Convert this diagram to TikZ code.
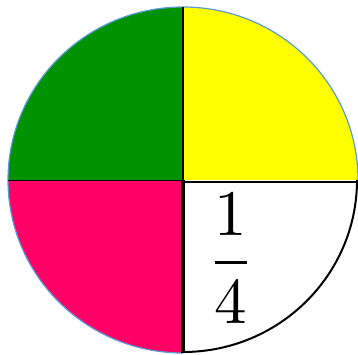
\documentclass[tikz,border=0pt]{standalone}
\usepackage{tikz}

\definecolor{piegreen}{RGB}{0,146,0}
\definecolor{pieyellow}{RGB}{255,255,0}
\definecolor{piepink}{RGB}{255,0,102}
\definecolor{rimblue}{RGB}{91,155,213}

\begin{document}
\begin{tikzpicture}[
  x=1pt,y=1pt,
  rim/.style={draw=rimblue,line width=1.2pt},
  whiterim/.style={draw=black,line width=2pt},
  divider/.style={draw=black,line width=#1},
  label/.style={scale=6.5,inner sep=0pt}
]
  \useasboundingbox (0,0) rectangle (358,354);
  \coordinate (O) at (183,174);

  % the four quarters
  \fill[piegreen] (O) -- ++(-175,0) arc[start angle=180,end angle=90,x radius=175,y radius=173] -- cycle;
  \fill[pieyellow] (O) -- ++(0,173) arc[start angle=90,end angle=0,x radius=175,y radius=173] -- cycle;
  \fill[piepink] (O) -- ++(0,-173) arc[start angle=270,end angle=180,x radius=175,y radius=173] -- cycle;
  \fill[white] (O) -- ++(175,0) arc[start angle=0,end angle=-90,x radius=175,y radius=173] -- cycle;

  % rims
  \draw[rim] (O) ++(0,-173) arc[start angle=270,end angle=90,x radius=175,y radius=173];
  \draw[rim] (O) ++(0,173) arc[start angle=90,end angle=0,x radius=175,y radius=173];
  \draw[whiterim] (O) ++(174,0) arc[start angle=0,end angle=-90,x radius=174,y radius=172];

  % dividing lines
  \coordinate (top) at (183,347);
  \coordinate (bottom) at (183,1);
  \coordinate (left) at (8,174);
  \coordinate (right) at (358,172);
  \draw[divider=1.6pt] (O) -- (top);
  \draw[divider=1pt] (O) -- (left);
  \draw[divider=3.5pt] (O) -- (bottom);
  \draw[divider=1.6pt] ([yshift=-2pt]O) -- (right);

  \node[label,anchor=base] (quarterfrac) at (231,75) {$\displaystyle\frac{1}{4}$};
\end{tikzpicture}
\end{document}
